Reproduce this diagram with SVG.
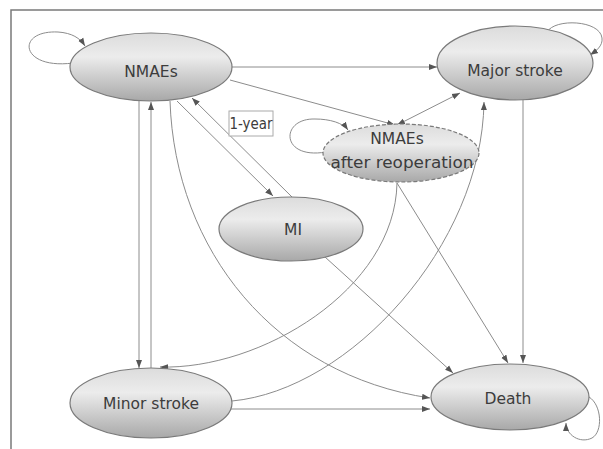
<svg xmlns="http://www.w3.org/2000/svg" width="603" height="449" viewBox="0 0 603 449">
<style>
.node{stroke:#7a7a7a;stroke-width:1.2;fill:url(#g)}
.dash{stroke-dasharray:4,2}
.lbl{font-family:"DejaVu Sans","Liberation Sans",sans-serif;font-size:15.5px;fill:#3c3c3c;text-anchor:middle}
.c{fill:none;stroke:#8c8c8c;stroke-width:1}
.a{marker-end:url(#ah)}
.frame{stroke:#7a7a7a;stroke-width:1.5;fill:none}
</style>
<defs>
<linearGradient id="g" x1="0" y1="0" x2="0" y2="1">
<stop offset="0" stop-color="#dcdcdc"/>
<stop offset="0.35" stop-color="#ececec"/>
<stop offset="1" stop-color="#a8a8a8"/>
</linearGradient>
<marker id="ah" markerUnits="userSpaceOnUse" markerWidth="8" markerHeight="8" viewBox="0 0 8 8" refX="8" refY="4" orient="auto-start-reverse">
<path d="M0,1 L8,4 L0,7 Z" fill="#555"/>
</marker>
</defs>
<rect width="603" height="449" fill="#fff"/>
<path class="frame" d="M11,449 V10 H603"/>

<g id="connectors">
<path class="c a" d="M73,63 C20,70 15,30 58,32 C72,33 80,38 85,46"/>
<path class="c a" d="M232,67 L437,67"/>
<path class="c a" d="M230,80 L395,125"/>
<path class="c a" d="M397,125 L460,93" marker-start="url(#ah)"/>
<path class="c a" d="M326,152 C280,160 280,118 315,119 C330,119 343,123 348,130"/>
<path class="c a" d="M547,32 C555,18 600,20 602,38 C603,46 596,51 590,55"/>
<path class="c a" d="M177,101 L273,196"/>
<path class="c a" d="M292,197 L192,98"/>
<path class="c a" d="M139,101 L139,368"/>
<path class="c a" d="M151,368 L151,102"/>
<path class="c a" d="M170,101 C175,250 275,375 430,398"/>
<path class="c a" d="M397,183 C395,290 260,370 160,367"/>
<path class="c a" d="M397,183 L508,363"/>
<path class="c a" d="M325,257 L453,373"/>
<path class="c a" d="M232,401 C350,390 482,245 484,102"/>
<path class="c a" d="M231,409 L430,409"/>
<path class="c a" d="M523,100 L523,363"/>
<path class="c a" d="M589,397 C602,405 603,432 592,438 C580,444 566,435 566,423"/>
</g>

<g id="label-1year">
<rect x="229" y="111" width="44" height="25" fill="#fff" stroke="#aaa" stroke-width="1"/>
<text class="lbl" x="251" y="129" textLength="43" lengthAdjust="spacingAndGlyphs">1-year</text>
</g>

<g id="nmaes">
<ellipse class="node" cx="151" cy="67" rx="81" ry="34"/>
<text class="lbl" x="151" y="77">NMAEs</text>
</g>
<g id="major-stroke">
<ellipse class="node" cx="515" cy="63" rx="78" ry="37"/>
<text class="lbl" x="515" y="76">Major stroke</text>
</g>
<g id="nmaes-reop">
<ellipse class="node dash" cx="401" cy="153" rx="78" ry="29"/>
<text class="lbl" x="397" y="144">NMAEs</text>
<text class="lbl" x="402" y="168" textLength="143" lengthAdjust="spacingAndGlyphs">after reoperation</text>
</g>
<g id="mi">
<ellipse class="node" cx="291" cy="229" rx="72" ry="32"/>
<text class="lbl" x="293" y="235">MI</text>
</g>
<g id="minor-stroke">
<ellipse class="node" cx="151" cy="403" rx="81" ry="35"/>
<text class="lbl" x="151" y="409">Minor stroke</text>
</g>
<g id="death">
<ellipse class="node" cx="510" cy="397" rx="79" ry="33"/>
<text class="lbl" x="508" y="404">Death</text>
</g>
</svg>
